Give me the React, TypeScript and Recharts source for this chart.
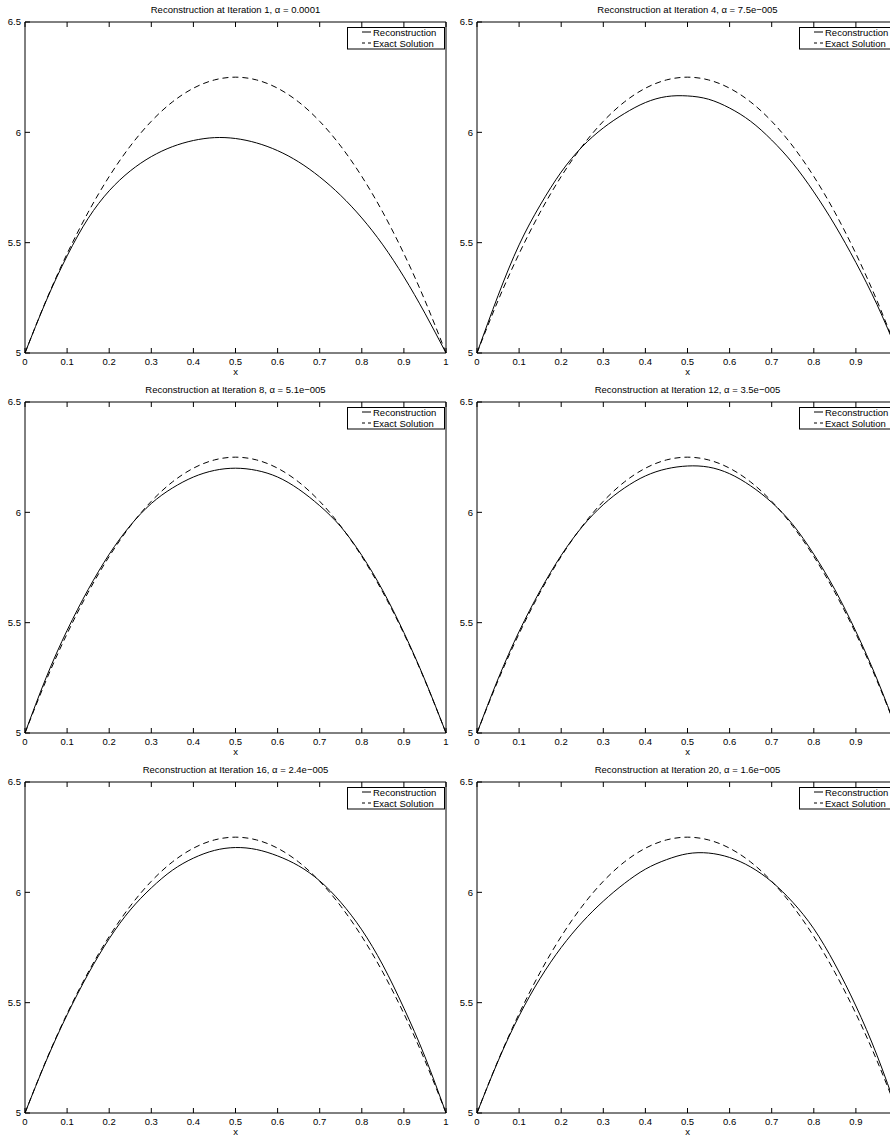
import { LineChart, Line, XAxis, YAxis, Legend } from 'recharts';

// grid of x positions (step 0.05)
const xs = [0, 0.05, 0.1, 0.15, 0.2, 0.25, 0.3, 0.35, 0.4, 0.45, 0.5, 0.55, 0.6, 0.65, 0.7, 0.75, 0.8, 0.85, 0.9, 0.95, 1];

// dashed curve, same in every panel
const exactSolution = [5, 5.2375, 5.45, 5.6375, 5.8, 5.9375, 6.05, 6.1375, 6.2, 6.2375, 6.25, 6.2375, 6.2, 6.1375, 6.05, 5.9375, 5.8, 5.6375, 5.45, 5.2375, 5];

// solid curves, one per iteration shown
const recon1 = [5, 5.235, 5.44, 5.61, 5.735, 5.825, 5.89, 5.935, 5.963, 5.976, 5.972, 5.952, 5.917, 5.866, 5.798, 5.714, 5.612, 5.49, 5.345, 5.18, 5];
const recon4 = [5, 5.26, 5.49, 5.67, 5.82, 5.935, 6.02, 6.085, 6.135, 6.162, 6.165, 6.15, 6.11, 6.05, 5.965, 5.86, 5.73, 5.58, 5.41, 5.22, 5];
const recon8 = [5, 5.25, 5.465, 5.65, 5.81, 5.94, 6.04, 6.11, 6.16, 6.19, 6.2, 6.19, 6.16, 6.105, 6.03, 5.935, 5.805, 5.645, 5.455, 5.24, 5];
const recon12 = [5, 5.245, 5.46, 5.645, 5.805, 5.935, 6.035, 6.11, 6.165, 6.197, 6.21, 6.205, 6.175, 6.12, 6.045, 5.945, 5.81, 5.65, 5.46, 5.245, 5];
const recon16 = [5, 5.235, 5.445, 5.63, 5.79, 5.92, 6.02, 6.1, 6.155, 6.19, 6.203, 6.194, 6.165, 6.12, 6.052, 5.955, 5.83, 5.67, 5.475, 5.255, 5];
const recon20 = [5, 5.235, 5.44, 5.61, 5.75, 5.865, 5.96, 6.04, 6.105, 6.148, 6.175, 6.178, 6.158, 6.115, 6.048, 5.955, 5.835, 5.675, 5.485, 5.262, 5];

const titles = [
  'Reconstruction at Iteration 1, α = 0.0001',
  'Reconstruction at Iteration 4, α = 7.5e−005',
  'Reconstruction at Iteration 8, α = 5.1e−005',
  'Reconstruction at Iteration 12, α = 3.5e−005',
  'Reconstruction at Iteration 16, α = 2.4e−005',
  'Reconstruction at Iteration 20, α = 1.6e−005',
];
const reconstructions = [recon1, recon4, recon8, recon12, recon16, recon20];

const xTicks = [0, 0.1, 0.2, 0.3, 0.4, 0.5, 0.6, 0.7, 0.8, 0.9, 1];
const yTicks = [5, 5.5, 6, 6.5];

const FONT = '"Liberation Sans", Arial, Helvetica, sans-serif';
const FS = 9.5;

const noTick = () => null;

// MATLAB-style boxed legend
const BoxLegend = () => (
  <svg width={98} height={23} style={{ display: 'block', overflow: 'visible' }}>
    <rect x={0.5} y={0.5} width={97} height={21.5} fill="#fff" stroke="#000" strokeWidth={1} />
    <line x1={15} x2={24} y1={5} y2={5} stroke="#000" strokeWidth={1} />
    <text x={26} y={9} fontSize={FS} fill="#000" fontFamily={FONT}>Reconstruction</text>
    <line x1={15} x2={24} y1={16} y2={16} stroke="#000" strokeWidth={1} strokeDasharray="3 3" />
    <text x={26} y={19.5} fontSize={FS} fill="#000" fontFamily={FONT}>Exact Solution</text>
  </svg>
);

function Panel({ title, recon, clipped }: { title: string; recon: number[]; clipped: boolean }) {
  const data = xs.map((x, i) => ({ x, recon: recon[i], exact: exactSolution[i] }));
  // right-hand panels run past the page edge, so their last label is not seen
  const fmtX = (v: number) => (clipped && v === 1 ? '' : String(v));
  return (
    <LineChart
      width={450}
      height={380}
      data={data}
      margin={{ top: 21, right: 3, bottom: 0, left: 0 }}
      style={{ fontFamily: FONT }}
    >
      <XAxis
        dataKey="x"
        type="number"
        domain={[0, 1]}
        ticks={xTicks}
        interval={0}
        height={27}
        tickSize={-5}
        tickMargin={10}
        stroke="#000"
        tickFormatter={fmtX}
        tick={{ fontSize: FS, fill: '#000' }}
        label={{ value: 'x', position: 'insideBottom', offset: 5, fontSize: FS, fill: '#000' }}
      />
      <XAxis
        xAxisId="top"
        orientation="top"
        dataKey="x"
        type="number"
        domain={[0, 1]}
        ticks={xTicks}
        interval={0}
        height={1}
        tickSize={-5}
        stroke="#000"
        tick={noTick}
        label={{ value: title, position: 'top', offset: 8, fontSize: FS, fill: '#000' }}
      />
      <YAxis
        type="number"
        domain={[5, 6.5]}
        ticks={yTicks}
        interval={0}
        width={25}
        tickSize={-5}
        tickMargin={9}
        stroke="#000"
        tick={{ fontSize: FS, fill: '#000' }}
      />
      <YAxis
        yAxisId="right"
        orientation="right"
        type="number"
        domain={[5, 6.5]}
        ticks={yTicks}
        interval={0}
        width={1}
        tickSize={-5}
        stroke="#000"
        tick={noTick}
      />
      <Legend
        layout="vertical"
        align="center"
        verticalAlign="middle"
        content={<BoxLegend />}
        wrapperStyle={{ left: 347, top: 27, width: 98, height: 23 }}
      />
      <Line
        type="natural"
        dataKey="recon"
        name="Reconstruction"
        stroke="#000"
        strokeWidth={1}
        dot={false}
        activeDot={false}
        isAnimationActive={false}
      />
      <Line
        type="natural"
        dataKey="exact"
        name="Exact Solution"
        stroke="#000"
        strokeWidth={1}
        strokeDasharray="6 4"
        dot={false}
        activeDot={false}
        isAnimationActive={false}
      />
    </LineChart>
  );
}

export default function App() {
  return (
    <div
      style={{
        position: 'absolute',
        left: 0,
        top: 0,
        width: 890,
        height: 1140,
        overflow: 'hidden',
        background: '#fff',
      }}
    >
      {titles.map((t, i) => (
        <div
          key={i}
          style={{ position: 'absolute', left: i % 2 === 0 ? 0 : 452, top: Math.floor(i / 2) * 380 }}
        >
          <Panel title={t} recon={reconstructions[i]} clipped={i % 2 === 1} />
        </div>
      ))}
    </div>
  );
}
